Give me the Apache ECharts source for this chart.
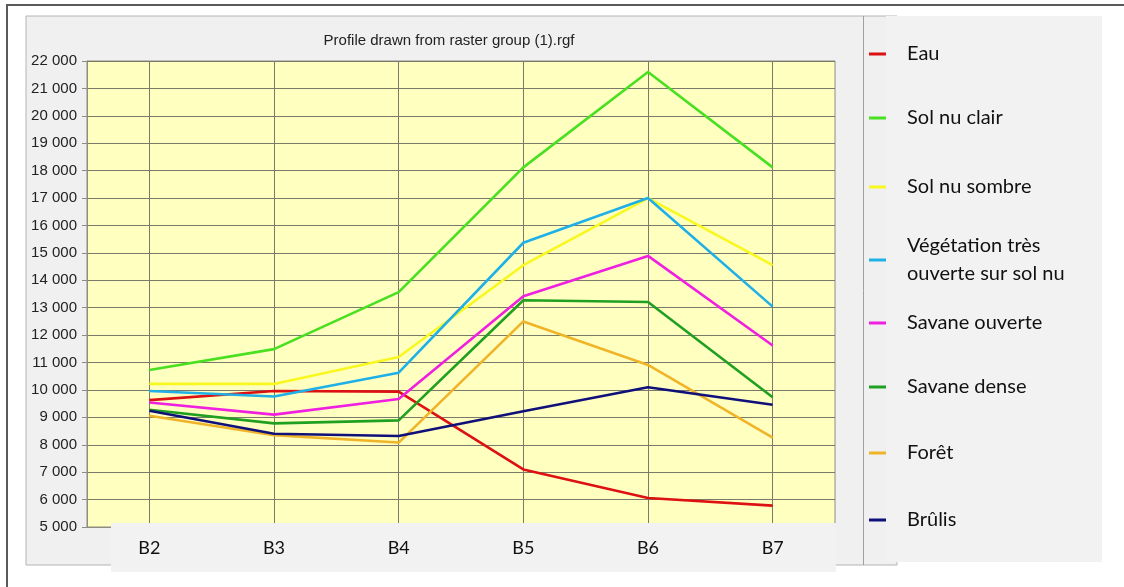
<!DOCTYPE html>
<html>
<head>
<meta charset="utf-8">
<script src="https://cdn.jsdelivr.net/npm/echarts@6/dist/echarts.min.js"></script>
<style>
html,body{margin:0;padding:0;background:#ffffff;}
#chart{width:1124px;height:587px;}
</style>
</head>
<body>
<div id="chart"></div>
<script>
// ---- data ----
var categories = ['B2', 'B3', 'B4', 'B5', 'B6', 'B7'];
var seriesNames = ['Eau', 'Sol nu clair', 'Sol nu sombre', 'Végétation très\nouverte sur sol nu',
  'Savane ouverte', 'Savane dense', 'Forêt', 'Brûlis'];
var eau        = [9630, 9960, 9940, 7100, 6060, 5780];
var solNuClair = [10730, 11490, 13570, 18120, 21600, 18120];
var solNuSombre = [10220, 10220, 11200, 14550, 17000, 14550];
var vegetation = [9960, 9760, 10630, 15370, 17000, 13040];
var savaneOuverte = [9540, 9100, 9670, 13420, 14890, 11620];
var savaneDense = [9280, 8780, 8890, 13270, 13210, 9730];
var foret      = [9060, 8350, 8080, 12500, 10910, 8260];
var brulis     = [9240, 8400, 8320, 9220, 10100, 9460];
var yMin = 5000, yMax = 22000, yStep = 1000;
var titleText = 'Profile drawn from raster group (1).rgf';

var values = [eau, solNuClair, solNuSombre, vegetation, savaneOuverte, savaneDense, foret, brulis];
var colors = ['#dd1111', '#48e020', '#f8f820', '#20b0e8', '#f020e0', '#20a020', '#f0b428', '#10107a'];
var legendCenters = [54, 118, 187, 260, 323, 387, 453, 520];

var chart = echarts.init(document.getElementById('chart'), null, {renderer: 'canvas'});

function fmt(v) {
  return String(v).replace(/\B(?=(\d{3})+(?!\d))/g, ' ');
}

var series = values.map(function (arr, i) {
  return {
    name: seriesNames[i],
    type: 'line',
    data: arr,
    xAxisIndex: 0,
    yAxisIndex: 0,
    showSymbol: false,
    symbol: 'none',
    lineStyle: {color: colors[i], width: 2.6},
    itemStyle: {color: colors[i]},
    z: 3 + i
  };
});

var legends = seriesNames.map(function (n, i) {
  var lines = n.split('\n').length;
  return {
    data: [n],
    orient: 'vertical',
    left: 869,
    top: legendCenters[i] - lines * 14,
    icon: 'rect',
    itemWidth: 17,
    itemHeight: 3,
    padding: 0,
    selectedMode: false,
    textStyle: {
      fontFamily: 'Lato',
      fontSize: 20,
      color: '#111',
      lineHeight: 28,
      padding: [0, 0, 0, 16]
    },
    z: 60
  };
});

var option = {
  backgroundColor: '#ffffff',
  animation: false,
  title: {
    text: titleText,
    left: 444,
    textAlign: 'center',
    top: 28,
    textStyle: {fontFamily: 'Liberation Sans', fontSize: 15, fontWeight: 'normal', color: '#222'}
  },
  legend: legends,
  graphic: [
    {type: 'rect', z: -20, shape: {x: 7, y: 5, width: 1140, height: 620},
      style: {fill: '#ffffff', stroke: '#5a5a5a', lineWidth: 2}},
    {type: 'rect', z: -15, shape: {x: 26, y: 16, width: 871, height: 549},
      style: {fill: '#f0f0f0', stroke: '#b4b4b4', lineWidth: 1}},
    {type: 'line', z: -14, shape: {x1: 863.5, y1: 16, x2: 863.5, y2: 565},
      style: {stroke: '#a0a0a0', lineWidth: 1}},
    {type: 'rect', z: -13, shape: {x: 886, y: 16, width: 216, height: 546},
      style: {fill: '#f2f2f2'}},
    {type: 'rect', z: 40, shape: {x: 111, y: 523, width: 725, height: 49},
      style: {fill: '#f2f2f2'}}
  ],
  grid: {
    left: 87, right: 289, top: 61, bottom: 60,
    show: true, backgroundColor: '#ffffc0', borderColor: '#8c8c80', borderWidth: 1
  },
  xAxis: [
    {
      type: 'category', data: categories, boundaryGap: true, gridIndex: 0,
      axisLine: {show: true, lineStyle: {color: '#8c8c80'}},
      axisTick: {show: false},
      axisLabel: {show: false},
      splitLine: {show: true, interval: 0, alignWithLabel: true, lineStyle: {color: '#7a7a6a', width: 1}}
    },
    {
      type: 'category', data: categories, boundaryGap: true, gridIndex: 0, position: 'bottom',
      z: 60,
      axisLine: {show: false}, axisTick: {show: false}, splitLine: {show: false},
      axisLabel: {show: true, interval: 0, margin: 12, fontFamily: 'Lato', fontSize: 18, color: '#111'}
    }
  ],
  yAxis: {
    type: 'value', min: yMin, max: yMax, interval: yStep,
    axisLine: {show: true, lineStyle: {color: '#8c8c80'}},
    axisTick: {show: true, length: 5, lineStyle: {color: '#8c8c80'}},
    axisLabel: {formatter: fmt, margin: 10, fontFamily: 'Liberation Sans', fontSize: 15, color: '#222'},
    splitLine: {show: true, lineStyle: {color: '#7a7a6a', width: 1}}
  },
  series: series
};
chart.setOption(option);
</script>
</body>
</html>
